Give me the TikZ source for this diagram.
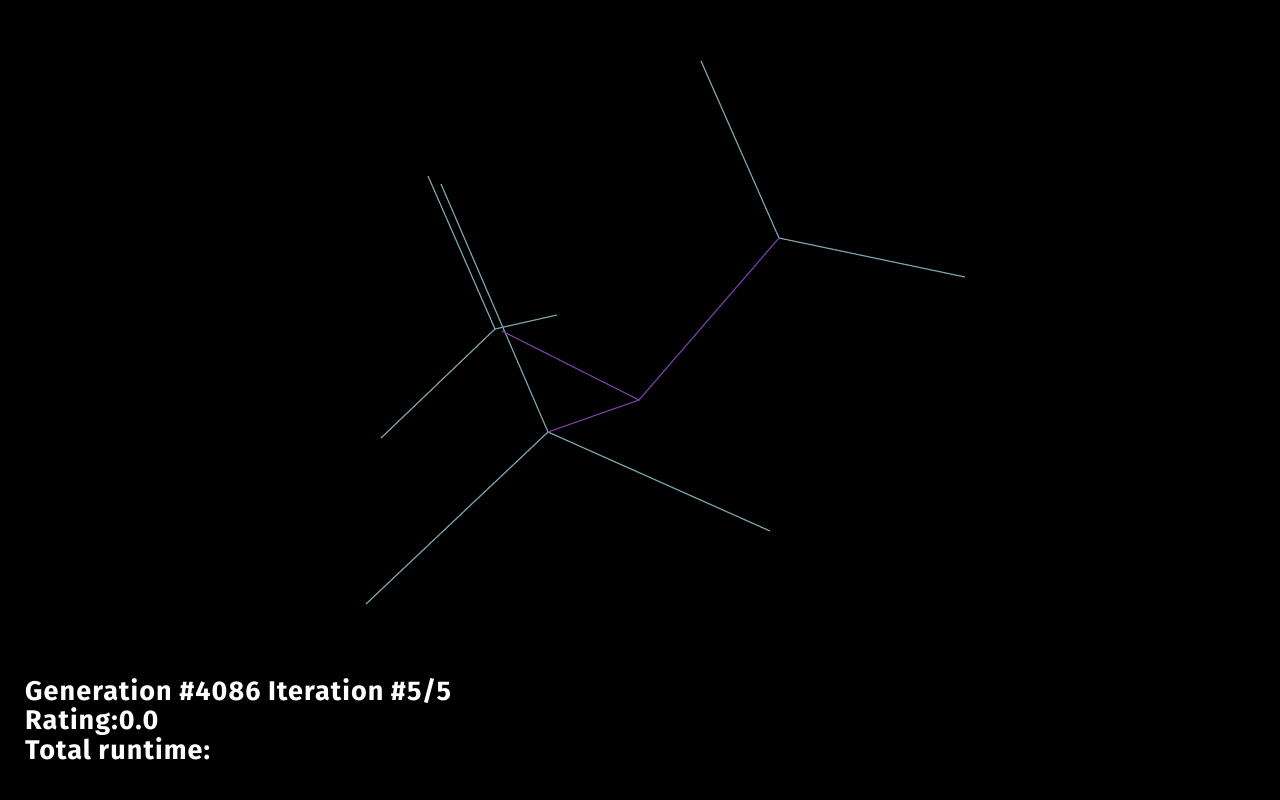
\documentclass[tikz,border=0pt]{standalone}
\usepackage{fontspec}
\setmainfont{Fira Sans}[LetterSpace=4]
\begin{document}
\begin{tikzpicture}[x=1pt,y=-1pt,
  edge/.style={draw=edgecol,line width=1.2pt},
  link/.style={draw=linkcol,line width=1.2pt},
  lbl/.style={text=white,font=\bfseries\fontsize{27}{30}\selectfont,anchor=base west,inner sep=0pt}]
\definecolor{edgecol}{RGB}{122,160,168}
\definecolor{linkcol}{RGB}{112,62,160}
\fill[black] (0,0) rectangle (1280,800);
\useasboundingbox (0,0) rectangle (1280,800);
% joints
\coordinate (R) at (779,238);
\coordinate (C) at (639,400);
\coordinate (B) at (548,432);
\coordinate (A) at (495,329);
\coordinate (Ap) at (502,331);
% free ends
\coordinate (R1) at (701,61);
\coordinate (R2) at (965,277);
\coordinate (B1) at (366,604);
\coordinate (B2) at (770,531);
\coordinate (B3) at (441,184);
\coordinate (A1) at (428,176);
\coordinate (A2) at (381,438);
\coordinate (A3) at (557,315);
% limbs
\draw[edge] (R1) -- (R) -- (R2);
\draw[edge] (B1) -- (B) -- (B2);
\draw[edge] (B) -- (B3);
\draw[edge] (A1) -- (A) -- (A2);
\draw[edge] (A) -- (A3);
% links
\draw[link] (Ap) -- (C) -- (B);
\draw[link] (C) -- (R);
% text
\node[lbl] (t1) at (25,700) {Generation \#4086 Iteration \#5/5};
\node[lbl] (t2) at (25,729) {Rating:0.0};
\node[lbl] (t3) at (25,759) {Total runtime:};
\end{tikzpicture}
\end{document}
